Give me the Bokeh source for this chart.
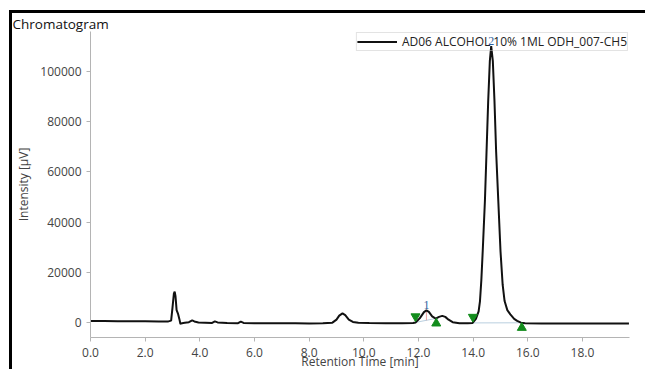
import numpy as np
from bokeh.plotting import figure
from bokeh.models import (Range1d, FixedTicker, PrintfTickFormatter,
                          LabelSet, ColumnDataSource)
from bokeh.embed import file_html
from bokeh.resources import INLINE

# Detector trace: retention time [min] and signal [µV]
time_min = [
    0.0, 0.5, 1.0, 1.5, 2.0, 2.5, 2.85, 2.95, 3.0, 3.05, 3.08, 3.11, 3.15,
    3.2, 3.25, 3.29, 3.35, 3.45, 3.6, 3.72, 3.8, 3.95, 4.2, 4.45, 4.55, 4.65,
    5.0, 5.4, 5.5, 5.6, 6.0, 6.5, 7.0, 7.5, 8.0, 8.5, 8.85, 9.0, 9.1, 9.22,
    9.32, 9.45, 9.6, 9.8, 10.2, 10.8, 11.4, 11.8, 11.9, 12.05, 12.2, 12.29,
    12.38, 12.5, 12.63, 12.75, 12.87, 12.98, 13.1, 13.25, 13.5, 13.8, 13.98,
    14.1, 14.2, 14.25, 14.3, 14.35, 14.43, 14.49, 14.55, 14.61, 14.66, 14.72,
    14.78, 14.84, 14.92, 15.0, 15.08, 15.15, 15.25, 15.36, 15.5, 15.61, 15.75,
    15.9, 16.5, 17.0, 17.5, 18.0, 18.5, 19.0, 19.5, 19.7,
]
intensity_uv = [
    700, 650, 600, 550, 550, 500, 500, 800, 6000, 11500, 12300, 10500, 5000,
    3600, 1500, -500, -200, 0, 200, 900, 500, 100, 0, -100, 500, 100,
    -100, -200, 400, -100, -200, -200, -250, -250, -300, -250, 0, 1200, 2800, 3700,
    3000, 1200, 300, 0, -150, -200, -200, -100, 100, 1800, 4200, 4900,
    4300, 2500, 1600, 2300, 2700, 2300, 1200, 200, -200, -200, -100,
    1500, 4500, 8600, 17000, 28500, 48400, 68200, 88100, 104000, 110000, 104000,
    88100, 68200, 48400, 28500, 15000, 8600, 5000, 3300, 1500, 700, 0,
    -200, -300, -350, -300, -300, -350, -300, -300, -300,
]

# Integrated peaks
peak_ids = ["1", "2"]
peak_apex_t = [12.29, 14.66]
peak_apex_y = [4900, 110000]
peak_start_t = [11.89, 13.99]
peak_start_y = [100, -100]
peak_end_t = [12.65, 15.78]
peak_end_y = [1700, -50]

x_ticks = [0, 2, 4, 6, 8, 10, 12, 14, 16, 18]
y_ticks = [0, 20000, 40000, 60000, 80000, 100000]

series_name = "AD06 ALCOHOL 10% 1ML ODH_007-CH5"

X0, X1 = 0.0, 19.72
Y0, Y1 = -5900, 115800
FRAME_H = 307
px = (Y1 - Y0) / FRAME_H  # data units per screen pixel on y

FONT = "Open Sans"
TICK_COL = "#444444"
AXIS_COL = "#b4b4b4"

p = figure(width=636, height=359, x_range=Range1d(X0, X1), y_range=Range1d(Y0, Y1),
           output_backend="svg", toolbar_location=None,
           min_border_left=77, min_border_right=19, min_border_top=17,
           min_border_bottom=35, title="Chromatogram")
p.margin = (10, 0, 0, 9)
p.styles = {"border-left": "3px solid #000000", "border-top": "3px solid #000000"}

p.title.text_font = FONT
p.title.text_font_size = "13.5px"
p.title.text_font_style = "normal"
p.title.text_color = "#111111"
p.title.align = "left"
p.title.offset = -78
p.title.standoff = -2

p.outline_line_color = None
p.xgrid.visible = False
p.ygrid.visible = False
p.background_fill_color = "white"
p.border_fill_color = "white"

p.xaxis.ticker = FixedTicker(ticks=x_ticks)
p.xaxis.formatter = PrintfTickFormatter(format="%.1f")
p.yaxis.ticker = FixedTicker(ticks=y_ticks)
p.yaxis.formatter = PrintfTickFormatter(format="%d")
for ax in (p.xaxis, p.yaxis):
    ax.axis_line_color = AXIS_COL
    ax.major_tick_line_color = AXIS_COL
    ax.minor_tick_line_color = None
    ax.major_tick_in = 0
    ax.major_tick_out = 4
    ax.major_label_text_font = FONT
    ax.major_label_text_font_size = "12px"
    ax.major_label_text_color = TICK_COL
    ax.axis_label_text_font = FONT
    ax.axis_label_text_font_size = "12px"
    ax.axis_label_text_font_style = "normal"
    ax.axis_label_text_color = TICK_COL
    ax.axis_label_text_line_height = 1.0
p.xaxis.major_label_standoff = 6
p.yaxis.major_label_standoff = 5
p.xaxis.axis_label = "Retention Time [min]"
p.xaxis.axis_label_standoff = -7
p.yaxis.axis_label = "Intensity [µV]"
p.yaxis.axis_label_standoff = 5

# integration baselines under the peaks
p.segment(x0=peak_start_t, y0=peak_start_y, x1=peak_end_t, y1=peak_end_y,
          line_color="#b9cfdf", line_width=1)

# apex marker of the first peak, from its baseline up to the top
base_at_apex = np.interp(peak_apex_t[0], [peak_start_t[0], peak_end_t[0]],
                         [peak_start_y[0], peak_end_y[0]])
p.segment(x0=[peak_apex_t[0]], y0=[base_at_apex], x1=[peak_apex_t[0]],
          y1=[peak_apex_y[0]], line_color="#e07a7a", line_width=1, line_alpha=0.7)

p.line(time_min, intensity_uv, line_color="#111111", line_width=2,
       legend_label=series_name)

# peak start / end markers
p.scatter(peak_start_t, [y + 6 * px for y in peak_start_y], marker="inverted_triangle",
          size=9, fill_color="#128c1c", line_color="#128c1c")
p.scatter(peak_end_t, [y - 5 * px for y in peak_end_y], marker="triangle",
          size=9, fill_color="#128c1c", line_color="#128c1c")

leg = p.legend[0]
leg.location = "top_right"
leg.margin = 1
leg.padding = 0
leg.spacing = 0
leg.glyph_width = 40
leg.glyph_height = 11
leg.label_height = 11
leg.label_standoff = 5
leg.label_text_font = FONT
leg.label_text_font_size = "12px"
leg.label_text_line_height = 1.0
leg.label_text_color = "#222222"
leg.border_line_color = "#c8c8c8"
leg.border_line_width = 1
leg.background_fill_alpha = 0.0

# peak numbers at the apex of each peak
peaks_src = ColumnDataSource(dict(x=peak_apex_t, y=peak_apex_y, txt=peak_ids))
p.add_layout(LabelSet(x="x", y="y", text="txt", source=peaks_src, y_offset=1,
                      text_align="center", text_baseline="bottom",
                      text_font=FONT, text_font_size="12px", text_color="#2f5f9f"))

open("out.html", "w").write(file_html(p, INLINE))
